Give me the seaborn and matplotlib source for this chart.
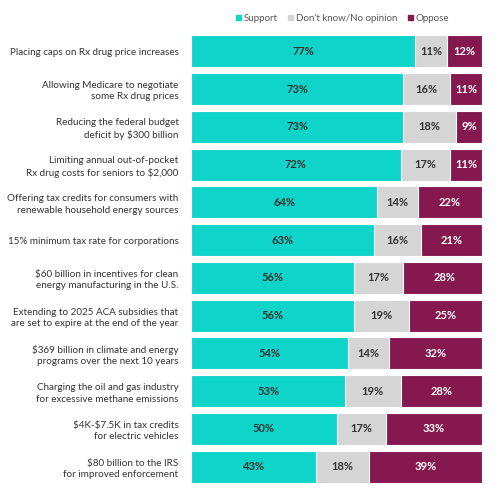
import pandas as pd
import numpy as np
import matplotlib
matplotlib.use("Agg")
import matplotlib.pyplot as plt
import seaborn as sns
from matplotlib.patches import Patch

# Data
items = [
    "Placing caps on Rx drug price increases",
    "Allowing Medicare to negotiate\nsome Rx drug prices",
    "Reducing the federal budget\ndeficit by \\$300 billion",
    "Limiting annual out-of-pocket\nRx drug costs for seniors to \\$2,000",
    "Offering tax credits for consumers with\nrenewable household energy sources",
    "15% minimum tax rate for corporations",
    "\\$60 billion in incentives for clean\nenergy manufacturing in the U.S.",
    "Extending to 2025 ACA subsidies that\nare set to expire at the end of the year",
    "\\$369 billion in climate and energy\nprograms over the next 10 years",
    "Charging the oil and gas industry\nfor excessive methane emissions",
    "\\$4K-\\$7.5K in tax credits\nfor electric vehicles",
    "\\$80 billion to the IRS\nfor improved enforcement",
]
support = [77, 73, 73, 72, 64, 63, 56, 56, 54, 53, 50, 43]
dont_know = [11, 16, 18, 17, 14, 16, 17, 19, 14, 19, 17, 18]
oppose = [12, 11, 9, 11, 22, 21, 28, 25, 32, 28, 33, 39]

c_support = "#0fd4c9"
c_dk = "#d5d5d5"
c_oppose = "#85184e"

df = pd.DataFrame({"item": items, "support": support,
                   "dont_know": dont_know, "oppose": oppose})
df["s_dk"] = df["support"] + df["dont_know"]
df["total"] = df["s_dk"] + df["oppose"]

sns.set_style("white")
plt.rcParams["font.family"] = ["Lato", "DejaVu Sans"]

fig = plt.figure(figsize=(5, 5), dpi=100)
ax = fig.add_axes([0.382, 0.034, 0.582, 0.896])

kw = dict(orient="h", width=0.85, edgecolor="white", linewidth=0.8,
          saturation=1, ax=ax)
sns.barplot(data=df, x="total", y="item", color=c_oppose, **kw)
sns.barplot(data=df, x="s_dk", y="item", color=c_dk, **kw)
sns.barplot(data=df, x="support", y="item", color=c_support, **kw)

for i, row in df.iterrows():
    ax.text(row["support"] / 2, i, f"{row['support']}%", ha="center",
            va="center", fontsize=8, fontweight="bold", color="#333333")
    ax.text(row["support"] + row["dont_know"] / 2, i, f"{row['dont_know']}%",
            ha="center", va="center", fontsize=8, fontweight="bold",
            color="#333333")
    ax.text(row["s_dk"] + row["oppose"] / 2, i, f"{row['oppose']}%",
            ha="center", va="center", fontsize=8, fontweight="bold",
            color="white")

ax.set_xlim(0, 100)
ax.set_ylim(len(items) - 1 + 0.43, -0.43)
ax.set_xlabel("")
ax.set_ylabel("")
ax.set_xticks([])
ax.tick_params(axis="y", length=0, pad=9, labelsize=7.1, labelcolor="#333333")
for lbl in ax.get_yticklabels():
    lbl.set_linespacing(1.35)
sns.despine(ax=ax, left=True, bottom=True)

handles = [Patch(color=c_support, label="Support"),
           Patch(color=c_dk, label="Don't know/No opinion"),
           Patch(color=c_oppose, label="Oppose")]
fig.legend(handles=handles, loc="center", bbox_to_anchor=(0.685, 0.963), ncol=3,
           frameon=False, fontsize=7, handlelength=0.5, handleheight=0.5,
           handletextpad=0.3, columnspacing=1.1, labelcolor="#555555")

fig.savefig("out.png", dpi=100)
